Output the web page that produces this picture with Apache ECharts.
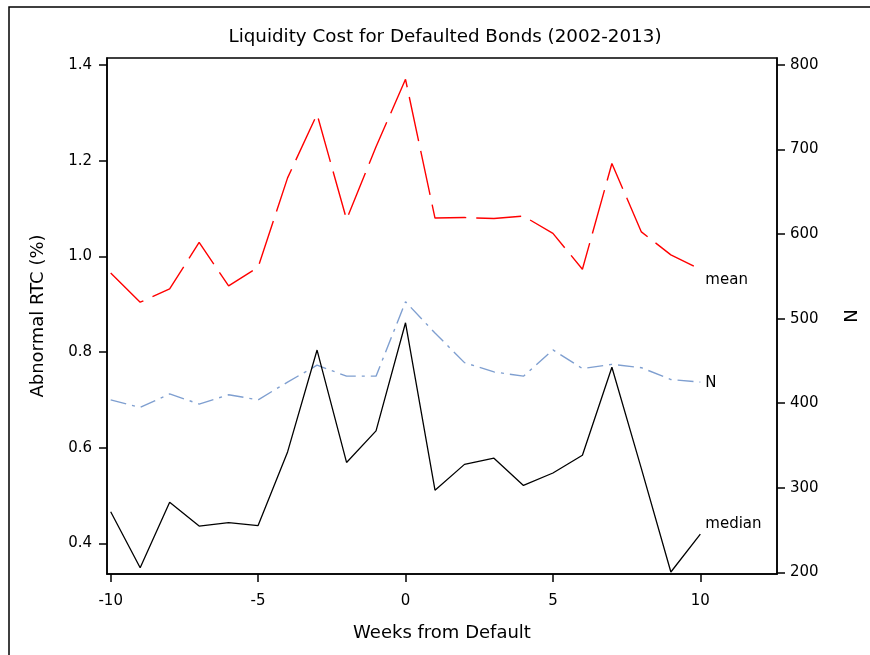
<!DOCTYPE html>
<html>
<head>
<meta charset="utf-8">
<script src="https://cdn.jsdelivr.net/npm/echarts@6/dist/echarts.min.js"></script>
<style>
  html, body { margin: 0; padding: 0; background: #fff; }
  #chart { width: 870px; height: 655px; }
</style>
</head>
<body>
<div id="chart"></div>
<script>
// Weeks relative to the default event
const weeks = [-10, -9, -8, -7, -6, -5, -4, -3, -2, -1, 0, 1, 2, 3, 4, 5, 6, 7, 8, 9, 10];

// Mean abnormal round-trip cost (%)
const meanRTC = [0.965, 0.904, 0.932, 1.029, 0.938, 0.977, 1.164, 1.297, 1.077, 1.229, 1.370,
                 1.080, 1.081, 1.079, 1.084, 1.048, 0.973, 1.194, 1.051, 1.003, 0.973];

// Median abnormal round-trip cost (%)
const medianRTC = [0.466, 0.349, 0.486, 0.436, 0.443, 0.437, 0.591, 0.804, 0.569, 0.635, 0.861,
                   0.511, 0.565, 0.578, 0.521, 0.547, 0.584, 0.768, 0.556, 0.340, 0.419];

// Number of bonds observed each week
const countN = [404, 395, 411, 399, 410, 404, 425, 445, 432, 432, 520,
                483, 448, 437, 432, 463, 441, 446, 442, 428, 425];

// Tick positions
const xTicks = [-10, -5, 0, 5, 10];
const leftTicks = [0.4, 0.6, 0.8, 1.0, 1.2, 1.4];
const rightTicks = [200, 300, 400, 500, 600, 700, 800];

const FONT = 'DejaVu Sans';
const pairs = (ys) => weeks.map((w, i) => [w, ys[i]]);

const chart = echarts.init(document.getElementById('chart'), null, { renderer: 'canvas' });

const axisLineStyle = { color: '#000', width: 1.5 };
const labelStyle = { color: '#000', fontFamily: FONT, fontSize: 15 };
const nameStyle = { color: '#000', fontFamily: FONT, fontSize: 18 };

chart.setOption({
  animation: false,
  backgroundColor: '#fff',
  title: {
    text: 'Liquidity Cost for Defaulted Bonds (2002-2013)',
    left: 440,
    top: 23,
    textAlign: 'center',
    textStyle: { color: '#000', fontFamily: FONT, fontSize: 18.3, fontWeight: 'normal' }
  },
  graphic: [{
    type: 'rect',
    shape: { x: 9, y: 7, width: 900, height: 700 },
    style: { fill: 'none', stroke: '#000', lineWidth: 1.5 },
    silent: true
  }],
  grid: {
    left: 107, top: 58, right: 93, bottom: 81,
    show: true, borderColor: '#000', borderWidth: 1.5, backgroundColor: 'transparent'
  },
  xAxis: {
    type: 'value',
    min: -10.125,
    max: 12.6,
    name: 'Weeks from Default',
    nameLocation: 'middle',
    nameGap: 50,
    nameTextStyle: nameStyle,
    axisLine: { onZero: false, lineStyle: axisLineStyle },
    axisTick: { show: true, length: 8, lineStyle: axisLineStyle, customValues: xTicks },
    axisLabel: Object.assign({ margin: 20, customValues: xTicks }, labelStyle),
    splitLine: { show: false }
  },
  yAxis: [{
    type: 'value',
    position: 'left',
    min: 0.3358,
    max: 1.4146,
    name: 'Abnormal RTC (%)',
    nameLocation: 'middle',
    nameGap: 60,
    nameTextStyle: nameStyle,
    axisLine: { show: true, onZero: false, lineStyle: axisLineStyle },
    axisTick: { show: true, length: 8, lineStyle: axisLineStyle, customValues: leftTicks },
    axisLabel: Object.assign({ margin: 15, customValues: leftTicks, formatter: (v) => v.toFixed(1) }, labelStyle),
    splitLine: { show: false }
  }, {
    type: 'value',
    position: 'right',
    min: 198,
    max: 808.3,
    name: 'N',
    nameLocation: 'middle',
    nameGap: 66,
    nameTextStyle: nameStyle,
    axisLine: { show: true, onZero: false, lineStyle: axisLineStyle },
    axisTick: { show: true, length: 8, lineStyle: axisLineStyle, customValues: rightTicks },
    axisLabel: Object.assign({ margin: 13, customValues: rightTicks }, labelStyle),
    splitLine: { show: false }
  }],
  series: [{
    name: 'mean',
    type: 'line',
    yAxisIndex: 0,
    data: pairs(meanRTC),
    symbol: 'none',
    lineStyle: { color: '#ff0000', width: 1.4, type: [45, 10] },
    endLabel: { show: true, formatter: '{a}', offset: [0, 11], distance: 5,
                color: '#000', fontFamily: FONT, fontSize: 15 }
  }, {
    name: 'N',
    type: 'line',
    yAxisIndex: 1,
    data: pairs(countN),
    symbol: 'none',
    lineStyle: { color: '#7f9fd0', width: 1.4, type: [16, 6, 3, 6] },
    endLabel: { show: true, formatter: '{a}', offset: [0, 1], distance: 5,
                color: '#000', fontFamily: FONT, fontSize: 15 }
  }, {
    name: 'median',
    type: 'line',
    yAxisIndex: 0,
    data: pairs(medianRTC),
    symbol: 'none',
    lineStyle: { color: '#000', width: 1.3 },
    endLabel: { show: true, formatter: '{a}', offset: [0, -10], distance: 5,
                color: '#000', fontFamily: FONT, fontSize: 15 }
  }]
});
</script>
</body>
</html>
